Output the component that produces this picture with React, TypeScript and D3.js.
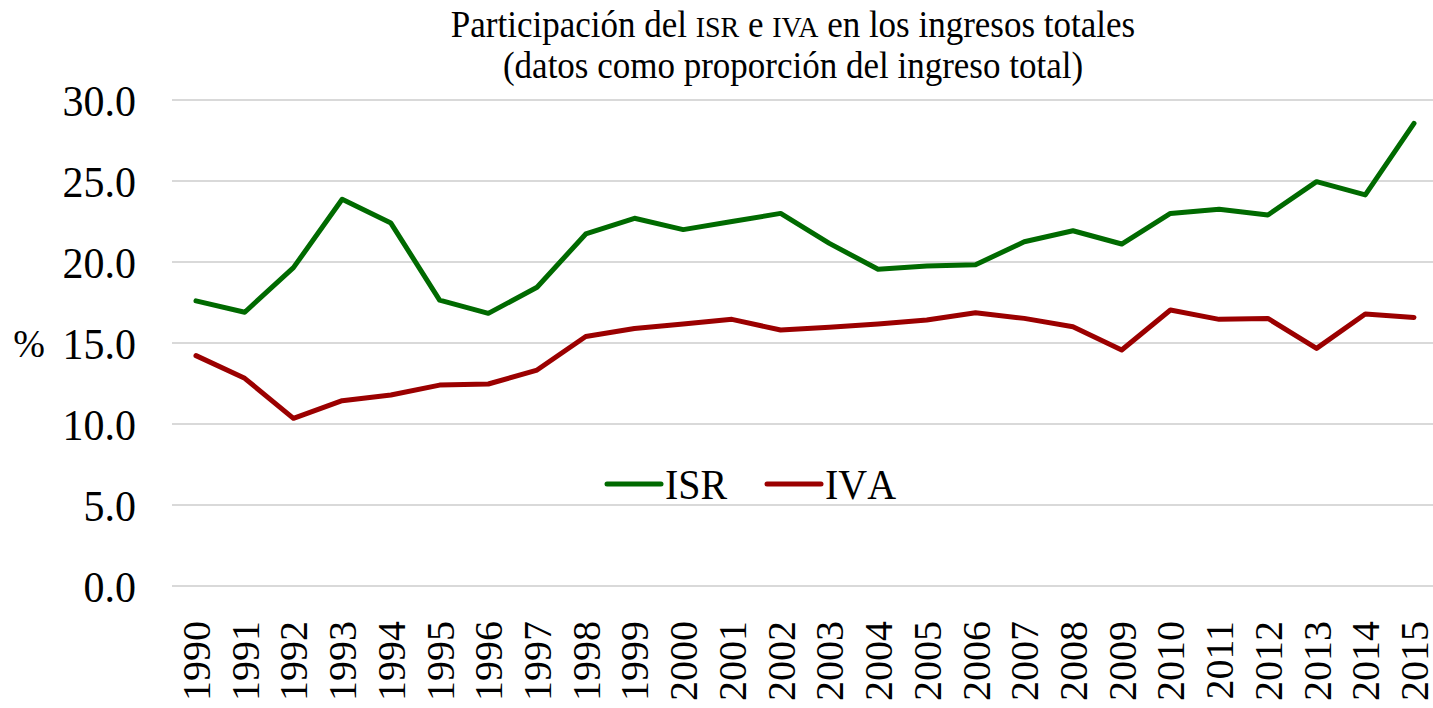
import * as d3 from 'd3';
import React, { useEffect, useRef } from 'react';

const years = [1990, 1991, 1992, 1993, 1994, 1995, 1996, 1997, 1998, 1999, 2000, 2001, 2002,
  2003, 2004, 2005, 2006, 2007, 2008, 2009, 2010, 2011, 2012, 2013, 2014, 2015];

const isr = [17.6, 16.9, 19.65, 23.87, 22.4, 17.65, 16.83, 18.44, 21.73, 22.7, 22.0, 22.5, 23.0,
  21.15, 19.55, 19.75, 19.83, 21.25, 21.93, 21.11, 23.0, 23.25, 22.9, 24.96, 24.14, 28.56];

const iva = [14.22, 12.82, 10.35, 11.44, 11.79, 12.4, 12.47, 13.33, 15.4, 15.9, 16.17, 16.46, 15.8,
  15.97, 16.17, 16.42, 16.87, 16.52, 16.0, 14.57, 17.04, 16.46, 16.52, 14.67, 16.79, 16.58];

const yTicks = [0, 5, 10, 15, 20, 25, 30];

const series = [
  { name: 'ISR', values: isr, color: '#006a00' },
  { name: 'IVA', values: iva, color: '#9b0000' }
];

const W = 1433;
const H = 708;
const FONT = '"Liberation Serif", "Times New Roman", serif';
// the source text looks slightly taller than it is wide
const STRETCH = 1.07;

export default function App() {
  const ref = useRef<SVGSVGElement>(null);

  useEffect(() => {
    const svg = d3.select(ref.current);
    svg.selectAll('*').remove();

    const x = d3.scaleLinear().domain([1990, 2015]).range([196, 1414]);
    const y = d3.scaleLinear().domain([0, 30]).range([586, 100]);

    // grid
    svg.append('g')
      .selectAll('line')
      .data(yTicks)
      .enter()
      .append('line')
      .attr('x1', 172)
      .attr('x2', 1433)
      .attr('y1', d => y(d))
      .attr('y2', d => y(d))
      .style('stroke', '#d9d9d9')
      .style('stroke-width', 2);

    // y labels
    svg.append('g')
      .selectAll('text')
      .data(yTicks)
      .enter()
      .append('text')
      .attr('transform', d => `translate(136, ${y(d)}) scale(1, ${STRETCH})`)
      .attr('dy', '0.35em')
      .attr('text-anchor', 'end')
      .style('font-family', FONT)
      .style('font-size', '42px')
      .text(d => d3.format('.1f')(d));

    svg.append('text')
      .attr('transform', `translate(29, ${y(15)}) scale(1, ${STRETCH})`)
      .attr('dy', '0.35em')
      .attr('text-anchor', 'middle')
      .style('font-family', FONT)
      .style('font-size', '38px')
      .text('%');

    // x labels
    svg.append('g')
      .selectAll('text')
      .data(years)
      .enter()
      .append('text')
      .attr('transform', d => `translate(${x(d)}, 621) rotate(-90)`)
      .attr('dy', '0.35em')
      .attr('text-anchor', 'end')
      .style('font-family', FONT)
      .style('font-size', '40px')
      .text(d => d);

    // lines
    const line = d3.line<number>()
      .x((d, i) => x(years[i]))
      .y(d => y(d));

    series.forEach(s => {
      svg.append('path')
        .attr('d', line(s.values))
        .style('fill', 'none')
        .style('stroke', s.color)
        .style('stroke-width', 5)
        .style('stroke-linejoin', 'round')
        .style('stroke-linecap', 'round');
    });

    // legend
    const legend = svg.append('g');
    const legendPos = [607, 767];
    series.forEach((s, i) => {
      const lx = legendPos[i];
      legend.append('line')
        .attr('x1', lx)
        .attr('x2', lx + 54)
        .attr('y1', 484)
        .attr('y2', 484)
        .style('stroke', s.color)
        .style('stroke-width', 5)
        .style('stroke-linecap', 'round');
      legend.append('text')
        .attr('transform', `translate(${lx + 58}, 499) scale(1, ${STRETCH})`)
        .style('font-family', FONT)
        .style('font-size', '40px')
        .style('font-kerning', 'none')
        .text(s.name);
    });

    // title
    const t1 = svg.append('text')
      .attr('transform', `translate(793, 37) scale(1, ${STRETCH})`)
      .attr('text-anchor', 'middle')
      .style('font-family', FONT)
      .style('font-size', '35px');
    t1.append('tspan').text('Participación del ');
    t1.append('tspan').style('font-size', '28px').text('ISR');
    t1.append('tspan').text(' e ');
    t1.append('tspan').style('font-size', '28px').text('IVA');
    t1.append('tspan').text(' en los ingresos totales');

    svg.append('text')
      .attr('transform', `translate(793, 78) scale(1, ${STRETCH})`)
      .attr('text-anchor', 'middle')
      .style('font-family', FONT)
      .style('font-size', '35px')
      .text('(datos como proporción del ingreso total)');
  }, []);

  return (
    <svg
      ref={ref}
      width={W}
      height={H}
      style={{ position: 'absolute', left: 0, top: 0, background: '#fff' }}
    />
  );
}
